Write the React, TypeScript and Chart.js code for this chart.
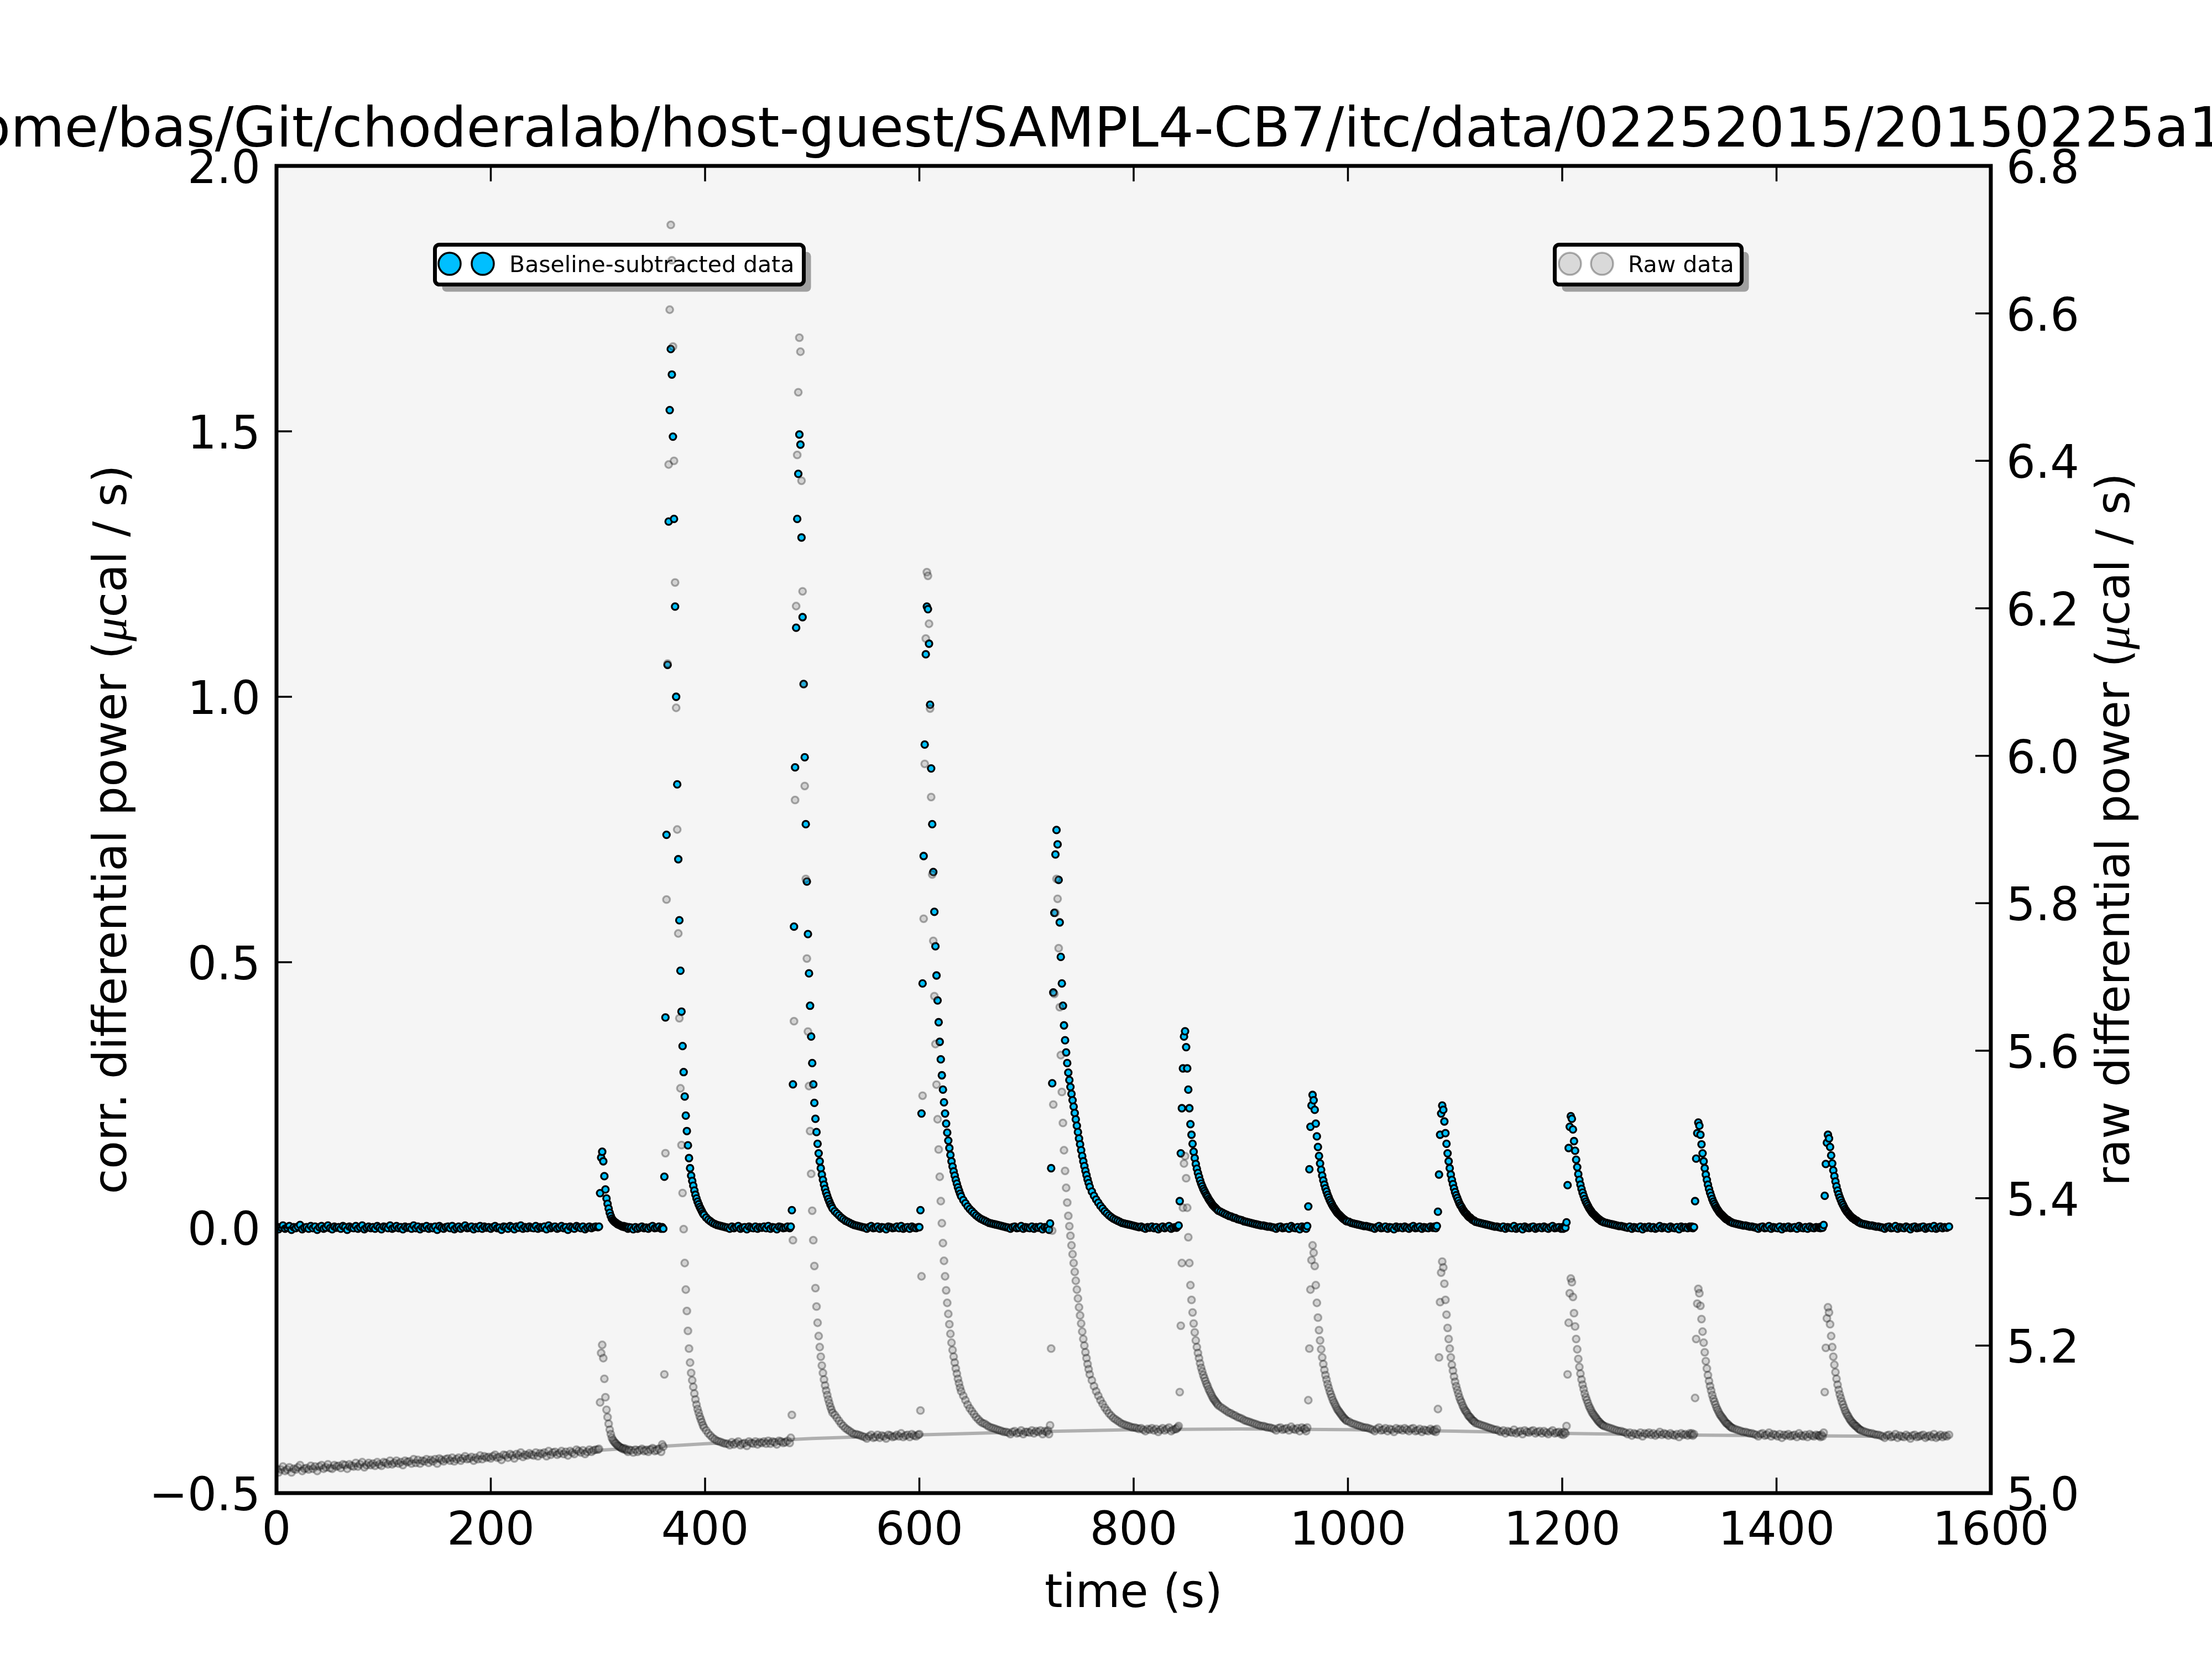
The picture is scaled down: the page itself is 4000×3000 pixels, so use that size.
import { useEffect, useRef } from "react";
import { Chart, registerables } from "chart.js";

Chart.register(...registerables);

// sampling: baseline stretches every 2 s, each injection peak every 1 s
const preStep = 2;
const tailStep = 2;
const injStarts = [300, 360, 480, 600, 720, 840, 960, 1080, 1200, 1320, 1440];

const xTicks = [0, 200, 400, 600, 800, 1000, 1200, 1400, 1600];
const yTicks = [-0.5, 0, 0.5, 1.0, 1.5, 2.0];
const y2Ticks = [5.0, 5.2, 5.4, 5.6, 5.8, 6.0, 6.2, 6.4, 6.6, 6.8];

const titleText = "/home/bas/Git/choderalab/host-guest/SAMPL4-CB7/itc/data/02252015/20150225a10.itc";

// baseline-subtracted power (ucal/s), left axis
const corrPre = [
  .002, -.003, .001, .004, -.002, 0, .003, -.004, .001, -.001,
  .002, .005, -.003, 0, .001, -.002, .003, -.001, .002, -.004,
  .001, .003, -.002, 0, .004, -.001, -.003, .002, 0, .001,
  -.002, .003, .001, -.004, .002, 0, -.001, .003, -.002, .001,
  .004, -.003, 0, .002, -.001, .001, -.002, .003, 0, -.003,
  .002, .001, -.001, .004, -.002, 0, .003, -.001, .001, -.003,
  .002, 0, .001, -.002, .004, -.001, .002, -.003, .001, 0,
  .003, -.002, .001, -.001, .002, -.004, .003, 0, -.002, .001,
  .002, -.001, .003, -.003, 0, .002, -.002, .001, .004, -.001,
  0, .002, -.003, .001, -.001, .003, -.002, .002, 0, .001,
  -.002, .001, .003, -.001, 0, -.004, .002, .001, -.002, .003,
  .001, -.003, .002, 0, .004, -.002, .001, -.001, .002, 0,
  -.001, .003, -.002, .001, 0, .002, -.003, .004, -.001, .001,
  .002, -.002, 0, .003, -.001, .001, -.004, .002, 0, -.002,
  .003, .001, -.001, .002, -.003, 0, .002, -.001, .001, .002,
];
const corr01 = [.001, .002, .065, .132, .143, .125, .097, .072, .055, .045, .036, .028, .022, .017, .014, .012, .010, .009, .007, .006, .005, .004, .003, .002, .003, .001, .002, 0, -.002, .001];
const corr01Tail = [0, -.003, .001, -.002, 0, .002, -.001, 0, -.002, .001, .003, -.001, 0, .002, -.002];
const corr02 = [.001, -.002, .096, .396, .74, 1.06, 1.33, 1.54, 1.655, 1.607, 1.49, 1.335, 1.17, 1.0, .835, .694, .579, .484, .407, .342, .293, .247, .211, .182, .155, .131, .112, .098, .088, .079, .07, .062, .055, .049, .044, .039, .035, .031, .027, .024];
const corr02Tail = [
  .019, .015, .012, .009, .007, .005, .004, .003, .002, .001, 0, -.002, .002, -.001, .001, .003, -.002, 0, .001, -.003,
  .002, 0, -.001, .002, -.002, .001, 0, .002, -.001, .003, -.002, .001, 0, -.003, .002, .001, -.001, 0, .002, -.001,
];
const corr03 = [.002, .033, .27, .567, .867, 1.13, 1.335, 1.42, 1.494, 1.475, 1.30, 1.15, 1.024, .886, .76, .652, .553, .479, .418, .36, .31, .27, .235, .205, .18, .158, .14, .125, .112, .1, .09, .081, .073, .066, .06, .054, .049, .044, .04, .036];
const corr03Tail = [
  .031, .027, .023, .019, .016, .013, .011, .009, .007, .005, .004, .003, .002, .001, 0, -.002, .001, .003, -.001, 0,
  .002, -.002, .001, 0, -.003, .002, .001, -.001, 0, .002, -.001, .003, -.002, 0, .001, -.002, .002, 0, -.001, .001,
];
const corr04 = [.001, .033, .215, .46, .70, .91, 1.08, 1.17, 1.165, 1.10, .985, .865, .76, .67, .595, .53, .475, .428, .387, .35, .317, .287, .26, .236, .215, .196, .179, .164, .15, .137, .125, .115, .106, .098, .09, .083, .076, .07, .064, .059];
const corr04Tail = [
  .052, .046, .04, .035, .031, .027, .023, .02, .017, .015, .013, .011, .009, .008, .007, .006, .005, .004, .003, .002,
  .001, 0, -.002, .001, .002, -.001, 0, .003, -.002, .001, 0, -.001, .002, -.002, .001, 0, .002, -.003, .001, 0,
];
const corr05 = [.001, -.004, .008, .112, .272, .443, .593, .703, .749, .722, .655, .575, .51, .46, .418, .381, .353, .33, .31, .292, .278, .265, .252, .24, .228, .216, .204, .192, .18, .168, .157, .146, .135, .125, .116, .107, .099, .091, .084, .077];
const corr05Tail = [
  .068, .06, .053, .047, .041, .036, .031, .027, .023, .02, .017, .015, .013, .011, .009, .008, .007, .006, .005, .004,
  .003, .002, .001, .002, 0, -.002, .001, 0, .002, -.001, .001, -.003, 0, .002, -.001, .001, .003, -.002, 0, .001,
];
const corr06 = [0, .002, .004, .05, .14, .225, .30, .36, .37, .34, .30, .26, .225, .195, .175, .158, .143, .131, .12, .111, .103, .096, .089, .083, .078, .073, .069, .065, .061, .058, .054, .051, .048, .045, .042, .04, .038, .036, .034, .032];
const corr06Tail = [
  .03, .028, .026, .024, .022, .021, .019, .018, .016, .015, .014, .012, .011, .01, .009, .008, .007, .006, .005, .004,
  .004, .003, .002, .002, .001, 0, -.002, .001, .002, -.001, 0, .001, -.002, .003, 0, -.001, .001, -.003, .002, 0,
];
const corr07 = [.001, -.002, .003, .04, .11, .19, .23, .25, .24, .222, .196, .172, .152, .135, .121, .109, .098, .089, .081, .074, .068, .062, .057, .052, .048, .044, .04, .037, .034, .031, .028, .026, .024, .022, .02, .018, .016, .015, .013, .012];
const corr07Tail = [
  .011, .009, .008, .007, .006, .005, .004, .003, .003, .002, .001, 0, -.002, .001, .003, -.001, 0, .002, -.002, .001,
  0, -.003, .002, 0, .001, -.001, .002, 0, -.002, .001, .003, -.001, 0, .002, -.002, .001, 0, -.001, .002, 0,
];
const corr08 = [0, .002, -.001, .003, .03, .1, .175, .215, .23, .222, .2, .178, .158, .14, .125, .112, .1, .09, .082, .074, .067, .061, .056, .051, .046, .042, .039, .035, .032, .029, .027, .025, .022, .02, .019, .017, .015, .014, .013, .011];
const corr08Tail = [
  .01, .009, .008, .007, .006, .005, .004, .003, .002, .002, .001, 0, .002, -.002, .001, 0, -.001, .003, -.002, 0,
  .001, -.003, .002, 0, -.001, .001, .002, -.002, 0, .001, -.001, .002, 0, -.002, .001, .003, -.001, 0, .001, -.002,
];
const corr09 = [.001, -.002, .002, 0, .01, .08, .15, .19, .21, .205, .185, .163, .145, .128, .114, .101, .09, .081, .073, .066, .06, .054, .049, .045, .041, .037, .034, .031, .028, .026, .024, .022, .02, .018, .016, .015, .013, .012, .011, .01];
const corr09Tail = [
  .009, .008, .007, .006, .005, .004, .003, .003, .002, .001, 0, .002, -.002, .001, 0, -.001, .002, -.003, .001, 0,
  .002, -.001, .001, -.002, 0, .003, -.001, .001, 0, -.002, .002, 0, -.001, .001, -.003, .002, 0, .001, -.001, .002,
];
const corr10 = [0, .002, -.001, .001, .05, .13, .178, .198, .192, .175, .157, .14, .125, .112, .1, .09, .081, .073, .066, .06, .054, .049, .045, .041, .037, .034, .031, .028, .026, .024, .022, .02, .018, .016, .015, .014, .012, .011, .01, .009];
const corr10Tail = [
  .008, .007, .006, .005, .004, .004, .003, .002, .002, .001, 0, -.002, .001, .002, -.001, 0, .003, -.002, .001, 0,
  -.001, .002, -.003, .001, 0, .002, -.001, 0, .001, -.002, .003, 0, -.001, .001, -.002, .002, 0, -.001, .001, 0,
];
const corr11 = [.001, -.001, .002, 0, .005, .06, .12, .16, .175, .168, .152, .136, .121, .108, .097, .087, .078, .07, .063, .057, .052, .047, .043, .039, .035, .032, .029, .027, .024, .022, .02, .018, .017, .015, .014, .013, .011, .01, .009, .008];
const corr11Tail = [
  .007, .006, .005, .004, .004, .003, .002, .002, .001, 0, -.002, .001, .002, -.001, 0, .003, -.002, .001, 0, -.001,
  .002, 0, -.003, .001, .002, -.001, 0, .001, .002, -.002, 0, .001, -.001, .003, -.002, 0, .002, -.001, .001, 0, .002,
];

// raw differential power (ucal/s), right axis
const rawPre = [
  5.033, 5.028, 5.032, 5.036, 5.030, 5.032, 5.035, 5.028, 5.033, 5.032,
  5.035, 5.038, 5.030, 5.033, 5.034, 5.032, 5.037, 5.033, 5.036, 5.030,
  5.036, 5.038, 5.033, 5.035, 5.039, 5.034, 5.033, 5.038, 5.036, 5.037,
  5.034, 5.039, 5.038, 5.033, 5.039, 5.037, 5.036, 5.041, 5.036, 5.039,
  5.042, 5.035, 5.038, 5.041, 5.038, 5.040, 5.037, 5.042, 5.039, 5.037,
  5.042, 5.041, 5.039, 5.044, 5.039, 5.041, 5.044, 5.040, 5.042, 5.038,
  5.044, 5.042, 5.043, 5.040, 5.046, 5.041, 5.045, 5.040, 5.044, 5.043,
  5.046, 5.041, 5.045, 5.043, 5.046, 5.040, 5.047, 5.045, 5.043, 5.046,
  5.047, 5.044, 5.048, 5.043, 5.046, 5.048, 5.044, 5.047, 5.050, 5.046,
  5.047, 5.049, 5.044, 5.048, 5.046, 5.051, 5.046, 5.050, 5.048, 5.049,
  5.047, 5.050, 5.052, 5.048, 5.049, 5.045, 5.052, 5.051, 5.048, 5.053,
  5.051, 5.047, 5.053, 5.051, 5.055, 5.049, 5.052, 5.051, 5.054, 5.052,
  5.051, 5.055, 5.050, 5.054, 5.053, 5.055, 5.050, 5.057, 5.052, 5.055,
  5.056, 5.052, 5.054, 5.057, 5.053, 5.056, 5.051, 5.057, 5.055, 5.053,
  5.059, 5.057, 5.055, 5.058, 5.053, 5.056, 5.059, 5.056, 5.058, 5.059,
];
const raw01 = [5.059, 5.060, 5.123, 5.190, 5.201, 5.183, 5.155, 5.130, 5.113, 5.103, 5.094, 5.086, 5.080, 5.075, 5.072, 5.070, 5.068, 5.067, 5.065, 5.064, 5.063, 5.062, 5.061, 5.060, 5.061, 5.059, 5.060, 5.058, 5.056, 5.059];
const raw01Tail = [5.058, 5.055, 5.059, 5.056, 5.058, 5.060, 5.057, 5.058, 5.056, 5.059, 5.061, 5.057, 5.058, 5.060, 5.056];
const raw02 = [5.066, 5.063, 5.161, 5.461, 5.805, 6.125, 6.395, 6.605, 6.720, 6.672, 6.555, 6.400, 6.235, 6.065, 5.900, 5.759, 5.644, 5.549, 5.472, 5.407, 5.358, 5.312, 5.276, 5.247, 5.220, 5.196, 5.177, 5.163, 5.153, 5.144, 5.135, 5.127, 5.120, 5.114, 5.109, 5.104, 5.100, 5.096, 5.092, 5.089];
const raw02Tail = [
  5.085, 5.081, 5.078, 5.075, 5.073, 5.071, 5.070, 5.069, 5.068, 5.067, 5.067, 5.065, 5.069, 5.066, 5.068, 5.070, 5.065, 5.067, 5.068, 5.064,
  5.070, 5.068, 5.067, 5.070, 5.066, 5.069, 5.068, 5.070, 5.067, 5.071, 5.067, 5.070, 5.069, 5.066, 5.071, 5.070, 5.068, 5.069, 5.071, 5.068,
];
const raw03 = [5.075, 5.106, 5.343, 5.640, 5.940, 6.203, 6.408, 6.493, 6.567, 6.548, 6.373, 6.223, 6.097, 5.959, 5.833, 5.725, 5.626, 5.552, 5.491, 5.433, 5.383, 5.343, 5.308, 5.278, 5.253, 5.231, 5.213, 5.198, 5.185, 5.173, 5.163, 5.154, 5.146, 5.139, 5.133, 5.127, 5.122, 5.117, 5.113, 5.109];
const raw03Tail = [
  5.106, 5.102, 5.098, 5.094, 5.091, 5.088, 5.086, 5.084, 5.082, 5.080, 5.080, 5.079, 5.078, 5.077, 5.076, 5.074, 5.077, 5.079, 5.075, 5.076,
  5.079, 5.075, 5.078, 5.077, 5.074, 5.079, 5.078, 5.076, 5.077, 5.079, 5.077, 5.081, 5.076, 5.078, 5.079, 5.076, 5.080, 5.078, 5.077, 5.079,
];
const raw04 = [5.080, 5.112, 5.294, 5.539, 5.779, 5.989, 6.159, 6.249, 6.244, 6.179, 6.064, 5.944, 5.839, 5.749, 5.674, 5.609, 5.554, 5.507, 5.466, 5.429, 5.396, 5.366, 5.339, 5.315, 5.294, 5.275, 5.258, 5.243, 5.229, 5.216, 5.204, 5.194, 5.185, 5.177, 5.169, 5.162, 5.155, 5.149, 5.143, 5.138];
const raw04Tail = [
  5.132, 5.126, 5.120, 5.115, 5.111, 5.107, 5.103, 5.100, 5.097, 5.095, 5.094, 5.092, 5.090, 5.089, 5.088, 5.087, 5.086, 5.085, 5.084, 5.083,
  5.083, 5.082, 5.080, 5.083, 5.084, 5.081, 5.082, 5.085, 5.080, 5.083, 5.083, 5.082, 5.085, 5.081, 5.084, 5.083, 5.085, 5.080, 5.084, 5.083,
];
const raw05 = [5.085, 5.080, 5.092, 5.196, 5.356, 5.527, 5.677, 5.787, 5.833, 5.806, 5.739, 5.659, 5.594, 5.544, 5.502, 5.465, 5.437, 5.414, 5.394, 5.376, 5.362, 5.349, 5.336, 5.324, 5.312, 5.300, 5.288, 5.276, 5.264, 5.252, 5.241, 5.230, 5.219, 5.209, 5.200, 5.191, 5.183, 5.175, 5.168, 5.161];
const raw05Tail = [
  5.153, 5.145, 5.138, 5.132, 5.126, 5.121, 5.116, 5.112, 5.108, 5.105, 5.102, 5.100, 5.098, 5.096, 5.094, 5.093, 5.092, 5.091, 5.090, 5.089,
  5.089, 5.088, 5.087, 5.088, 5.086, 5.084, 5.087, 5.086, 5.088, 5.085, 5.087, 5.083, 5.086, 5.088, 5.085, 5.087, 5.089, 5.084, 5.086, 5.087,
];
const raw06 = [5.087, 5.089, 5.091, 5.137, 5.227, 5.312, 5.387, 5.447, 5.457, 5.427, 5.387, 5.347, 5.312, 5.282, 5.262, 5.245, 5.230, 5.218, 5.207, 5.198, 5.190, 5.183, 5.176, 5.170, 5.165, 5.160, 5.156, 5.152, 5.148, 5.145, 5.141, 5.138, 5.135, 5.132, 5.129, 5.127, 5.125, 5.123, 5.121, 5.119];
const raw06Tail = [
  5.117, 5.115, 5.113, 5.111, 5.109, 5.108, 5.106, 5.105, 5.103, 5.102, 5.101, 5.099, 5.098, 5.097, 5.096, 5.095, 5.094, 5.093, 5.092, 5.091,
  5.091, 5.090, 5.089, 5.089, 5.088, 5.087, 5.085, 5.088, 5.089, 5.086, 5.087, 5.088, 5.085, 5.090, 5.087, 5.086, 5.088, 5.084, 5.089, 5.087,
];
const raw07 = [5.087, 5.084, 5.089, 5.126, 5.196, 5.276, 5.316, 5.336, 5.326, 5.308, 5.282, 5.258, 5.238, 5.221, 5.207, 5.195, 5.184, 5.175, 5.167, 5.160, 5.154, 5.148, 5.143, 5.138, 5.134, 5.130, 5.126, 5.123, 5.120, 5.117, 5.114, 5.112, 5.110, 5.108, 5.106, 5.104, 5.102, 5.101, 5.099, 5.098];
const raw07Tail = [
  5.097, 5.095, 5.094, 5.093, 5.092, 5.091, 5.090, 5.089, 5.089, 5.088, 5.087, 5.086, 5.084, 5.087, 5.089, 5.085, 5.086, 5.088, 5.084, 5.087,
  5.086, 5.083, 5.088, 5.086, 5.087, 5.085, 5.088, 5.086, 5.084, 5.087, 5.088, 5.084, 5.085, 5.087, 5.083, 5.086, 5.085, 5.084, 5.087, 5.085,
];
const raw08 = [5.084, 5.086, 5.083, 5.087, 5.114, 5.184, 5.259, 5.299, 5.314, 5.306, 5.284, 5.262, 5.242, 5.224, 5.209, 5.196, 5.184, 5.174, 5.166, 5.158, 5.151, 5.145, 5.140, 5.135, 5.130, 5.126, 5.123, 5.119, 5.116, 5.113, 5.111, 5.109, 5.106, 5.104, 5.103, 5.101, 5.099, 5.098, 5.097, 5.095];
const raw08Tail = [
  5.094, 5.093, 5.092, 5.091, 5.090, 5.089, 5.088, 5.087, 5.086, 5.086, 5.084, 5.083, 5.085, 5.081, 5.084, 5.083, 5.082, 5.086, 5.081, 5.083,
  5.084, 5.080, 5.085, 5.083, 5.082, 5.084, 5.085, 5.081, 5.083, 5.084, 5.081, 5.084, 5.082, 5.080, 5.083, 5.085, 5.081, 5.082, 5.083, 5.080,
];
const raw09 = [5.082, 5.079, 5.083, 5.081, 5.091, 5.161, 5.231, 5.271, 5.291, 5.286, 5.266, 5.244, 5.226, 5.209, 5.195, 5.182, 5.171, 5.162, 5.154, 5.147, 5.141, 5.135, 5.130, 5.126, 5.122, 5.118, 5.115, 5.112, 5.109, 5.107, 5.105, 5.103, 5.101, 5.099, 5.097, 5.096, 5.094, 5.093, 5.092, 5.091];
const raw09Tail = [
  5.090, 5.089, 5.088, 5.087, 5.086, 5.085, 5.084, 5.084, 5.083, 5.082, 5.080, 5.082, 5.078, 5.081, 5.080, 5.079, 5.082, 5.077, 5.081, 5.080,
  5.082, 5.079, 5.081, 5.078, 5.080, 5.083, 5.079, 5.081, 5.080, 5.078, 5.081, 5.079, 5.078, 5.080, 5.076, 5.081, 5.079, 5.080, 5.078, 5.081,
];
const raw10 = [5.079, 5.081, 5.078, 5.080, 5.129, 5.209, 5.257, 5.277, 5.271, 5.254, 5.236, 5.219, 5.204, 5.191, 5.179, 5.169, 5.160, 5.152, 5.145, 5.139, 5.133, 5.128, 5.124, 5.120, 5.116, 5.113, 5.110, 5.107, 5.105, 5.103, 5.101, 5.099, 5.097, 5.095, 5.094, 5.093, 5.091, 5.090, 5.089, 5.088];
const raw10Tail = [
  5.087, 5.086, 5.085, 5.084, 5.083, 5.083, 5.082, 5.081, 5.081, 5.080, 5.079, 5.077, 5.080, 5.081, 5.078, 5.079, 5.082, 5.077, 5.080, 5.079,
  5.077, 5.080, 5.075, 5.079, 5.078, 5.080, 5.077, 5.078, 5.079, 5.076, 5.081, 5.078, 5.077, 5.079, 5.076, 5.080, 5.078, 5.077, 5.079, 5.078,
];
const raw11 = [5.078, 5.076, 5.079, 5.077, 5.082, 5.137, 5.197, 5.237, 5.252, 5.245, 5.229, 5.213, 5.198, 5.185, 5.174, 5.164, 5.155, 5.147, 5.140, 5.134, 5.129, 5.124, 5.120, 5.116, 5.112, 5.109, 5.106, 5.104, 5.101, 5.099, 5.097, 5.095, 5.094, 5.092, 5.091, 5.090, 5.088, 5.087, 5.086, 5.085];
const raw11Tail = [
  5.084, 5.083, 5.082, 5.081, 5.081, 5.080, 5.079, 5.079, 5.078, 5.077, 5.075, 5.078, 5.079, 5.076, 5.077, 5.080, 5.075, 5.078, 5.077, 5.076,
  5.079, 5.077, 5.074, 5.078, 5.079, 5.076, 5.077, 5.078, 5.079, 5.075, 5.077, 5.078, 5.076, 5.080, 5.075, 5.077, 5.079, 5.076, 5.078, 5.077, 5.079,
];

// fitted baseline through the raw data (grey line)
const baseTimes = [0, 100, 200, 300, 400, 500, 600, 700, 800, 900, 1000, 1100, 1200, 1300, 1400, 1500, 1562];
const baseValues = [5.031, 5.040, 5.049, 5.058, 5.067, 5.074, 5.079, 5.083, 5.086, 5.087, 5.086, 5.084, 5.081, 5.079, 5.078, 5.077, 5.077];

const corrSegs = [
  [corr01, corr01Tail], [corr02, corr02Tail], [corr03, corr03Tail], [corr04, corr04Tail], [corr05, corr05Tail], [corr06, corr06Tail],
  [corr07, corr07Tail], [corr08, corr08Tail], [corr09, corr09Tail], [corr10, corr10Tail], [corr11, corr11Tail],
];
const rawSegs = [
  [raw01, raw01Tail], [raw02, raw02Tail], [raw03, raw03Tail], [raw04, raw04Tail], [raw05, raw05Tail], [raw06, raw06Tail],
  [raw07, raw07Tail], [raw08, raw08Tail], [raw09, raw09Tail], [raw10, raw10Tail], [raw11, raw11Tail],
];

function toPoints(pre: number[], segs: number[][][]) {
  const pts = pre.map((y, i) => ({ x: i * preStep, y }));
  segs.forEach(([fine, tail], k) => {
    const t0 = injStarts[k];
    fine.forEach((y, i) => pts.push({ x: t0 + i, y }));
    tail.forEach((y, j) => pts.push({ x: t0 + fine.length + 1 + tailStep * j, y }));
  });
  return pts;
}

const FONT = '"DejaVu Sans", sans-serif';
const MU_FONT = 'italic 86px "Liberation Serif", serif';
const BLUE = "#00bfff";
const RAW_FILL = "rgba(128,128,128,0.3)";
const RAW_EDGE = "rgba(0,0,0,0.3)";

const fmt = (v: number) => v.toFixed(1).replace("-", "\u2212");

function roundRect(ctx: CanvasRenderingContext2D, x: number, y: number, w: number, h: number, r: number) {
  ctx.beginPath();
  ctx.moveTo(x + r, y);
  ctx.arcTo(x + w, y, x + w, y + h, r);
  ctx.arcTo(x + w, y + h, x, y + h, r);
  ctx.arcTo(x, y + h, x, y, r);
  ctx.arcTo(x, y, x + w, y, r);
  ctx.closePath();
}

function drawLegend(ctx: CanvasRenderingContext2D, x0: number, x1: number, marks: number[], textX: number, text: string, fill: string, edge: string) {
  const y0 = 439, y1 = 518;
  ctx.save();
  roundRect(ctx, x0 + 3.5 + 13, y0 + 3.5 + 13, x1 - x0 - 7, y1 - y0 - 7, 8);
  ctx.fillStyle = "rgba(0,0,0,0.35)";
  ctx.fill();
  roundRect(ctx, x0 + 3.5, y0 + 3.5, x1 - x0 - 7, y1 - y0 - 7, 8);
  ctx.fillStyle = "#ffffff";
  ctx.fill();
  ctx.lineWidth = 7;
  ctx.strokeStyle = "#000";
  ctx.stroke();
  for (const mx of marks) {
    ctx.beginPath();
    ctx.arc(mx, 477, 20, 0, Math.PI * 2);
    ctx.fillStyle = fill;
    ctx.fill();
    ctx.lineWidth = 3.5;
    ctx.strokeStyle = edge;
    ctx.stroke();
  }
  ctx.fillStyle = "#000";
  ctx.font = `41px ${FONT}`;
  ctx.textAlign = "left";
  ctx.textBaseline = "alphabetic";
  ctx.fillText(text, textX, 492);
  ctx.restore();
}

function drawVerticalLabel(ctx: CanvasRenderingContext2D, baseX: number, cy: number, before: string, after: string) {
  const normal = `83px ${FONT}`;
  ctx.save();
  ctx.font = normal;
  const w1 = ctx.measureText(before).width;
  const w3 = ctx.measureText(after).width;
  ctx.font = MU_FONT;
  const w2 = ctx.measureText("\u03bc").width;
  const total = w1 + w2 + w3;
  ctx.translate(baseX, cy);
  ctx.rotate(-Math.PI / 2);
  ctx.fillStyle = "#000";
  ctx.textAlign = "left";
  ctx.textBaseline = "alphabetic";
  let x = -total / 2;
  ctx.font = normal;
  ctx.fillText(before, x, 0);
  x += w1;
  ctx.font = MU_FONT;
  ctx.fillText("\u03bc", x, 0);
  x += w2;
  ctx.font = normal;
  ctx.fillText(after, x, 0);
  ctx.restore();
}

const axesPlugin = {
  id: "mplAxes",
  beforeDraw(chart: any) {
    const { ctx, chartArea: a } = chart;
    ctx.save();
    ctx.fillStyle = "#ffffff";
    ctx.fillRect(0, 0, chart.width, chart.height);
    ctx.fillStyle = "#f5f5f5";
    ctx.fillRect(a.left, a.top, a.right - a.left, a.bottom - a.top);
    ctx.restore();
  },
  afterDatasetDraw(chart: any, args: any) {
    if (args.index === 0) {
      drawLegend(chart.ctx, 783, 1457, [813, 873], 921, "Baseline-subtracted data", BLUE, "#000");
    }
  },
  afterDatasetsDraw(chart: any) {
    const { ctx, chartArea: a, scales } = chart;
    drawLegend(ctx, 2808, 3153, [2839, 2897], 2944, "Raw data", RAW_FILL, RAW_EDGE);

    ctx.save();
    ctx.strokeStyle = "#000";
    // ticks, pointing inwards
    ctx.lineWidth = 3.5;
    ctx.beginPath();
    for (const v of xTicks) {
      const px = scales.x.getPixelForValue(v);
      ctx.moveTo(px, a.bottom); ctx.lineTo(px, a.bottom - 28);
      ctx.moveTo(px, a.top); ctx.lineTo(px, a.top + 28);
    }
    for (const v of yTicks) {
      const py = scales.y.getPixelForValue(v);
      ctx.moveTo(a.left, py); ctx.lineTo(a.left + 28, py);
    }
    for (const v of y2Ticks) {
      const py = scales.y2.getPixelForValue(v);
      ctx.moveTo(a.right, py); ctx.lineTo(a.right - 28, py);
    }
    ctx.stroke();
    // frame
    ctx.lineWidth = 7;
    ctx.strokeRect(a.left, a.top, a.right - a.left, a.bottom - a.top);

    // tick labels
    ctx.fillStyle = "#000";
    ctx.font = `83px ${FONT}`;
    ctx.textBaseline = "alphabetic";
    ctx.textAlign = "center";
    for (const v of xTicks) ctx.fillText(String(v), scales.x.getPixelForValue(v), a.bottom + 93);
    ctx.textAlign = "right";
    for (const v of yTicks) ctx.fillText(fmt(v), a.left - 29, scales.y.getPixelForValue(v) + 31);
    ctx.textAlign = "left";
    for (const v of y2Ticks) ctx.fillText(fmt(v), a.right + 28, scales.y2.getPixelForValue(v) + 31);

    // axis labels
    ctx.textAlign = "center";
    ctx.fillText("time (s)", (a.left + a.right) / 2, 2906);
    ctx.restore();
    drawVerticalLabel(ctx, 228, (a.top + a.bottom) / 2, "corr. differential power (", "cal / s)");
    drawVerticalLabel(ctx, 3850, (a.top + a.bottom) / 2, "raw differential power (", "cal / s)");

    // title (wider than the figure, clipped by the canvas like the original)
    ctx.save();
    ctx.fillStyle = "#000";
    ctx.font = `100px ${FONT}`;
    ctx.textAlign = "center";
    ctx.textBaseline = "alphabetic";
    ctx.fillText(titleText, (a.left + a.right) / 2, 265);
    ctx.restore();
  },
};

export default function App() {
  const ref = useRef<HTMLCanvasElement>(null);

  useEffect(() => {
    document.body.style.margin = "0";
    const hidden = { display: false };
    const chart = new Chart(ref.current!, {
      type: "scatter",
      data: {
        datasets: [
          {
            label: "Baseline-subtracted data",
            data: toPoints(corrPre, corrSegs),
            yAxisID: "y",
            backgroundColor: BLUE,
            borderColor: "#000",
            pointRadius: 6,
            borderWidth: 3.3,
            clip: 0,
            order: 3,
          },
          {
            type: "line",
            label: "baseline",
            data: baseTimes.map((t, i) => ({ x: t, y: baseValues[i] })),
            yAxisID: "y2",
            borderColor: "rgba(128,128,128,0.6)",
            borderWidth: 6,
            pointRadius: 0,
            cubicInterpolationMode: "monotone",
            fill: false,
            clip: 0,
            order: 2,
          },
          {
            label: "Raw data",
            data: toPoints(rawPre, rawSegs),
            yAxisID: "y2",
            backgroundColor: RAW_FILL,
            borderColor: RAW_EDGE,
            pointRadius: 6.3,
            borderWidth: 3.3,
            clip: 0,
            order: 1,
          },
        ],
      } as any,
      options: {
        animation: false,
        responsive: false,
        devicePixelRatio: 1,
        events: [],
        layout: { padding: { top: 300, left: 0, right: 0, bottom: 0 } },
        plugins: { legend: hidden, tooltip: { enabled: false }, title: hidden },
        scales: {
          x: {
            type: "linear", min: 0, max: 1600,
            ticks: { display: false, stepSize: 200 }, grid: hidden, border: hidden,
            afterFit: (s: any) => { s.height = 300; },
          },
          y: {
            type: "linear", position: "left", min: -0.5, max: 2.0,
            ticks: { display: false, stepSize: 0.5 }, grid: hidden, border: hidden,
            afterFit: (s: any) => { s.width = 500; },
          },
          y2: {
            type: "linear", position: "right", min: 5.0, max: 6.8,
            ticks: { display: false, stepSize: 0.2 }, grid: hidden, border: hidden,
            afterFit: (s: any) => { s.width = 400; },
          },
        },
      } as any,
      plugins: [axesPlugin],
    });
    return () => chart.destroy();
  }, []);

  return (
    <div style={{ width: 4000, height: 3000 }}>
      <canvas ref={ref} width={4000} height={3000} style={{ display: "block", width: 4000, height: 3000 }} />
    </div>
  );
}
